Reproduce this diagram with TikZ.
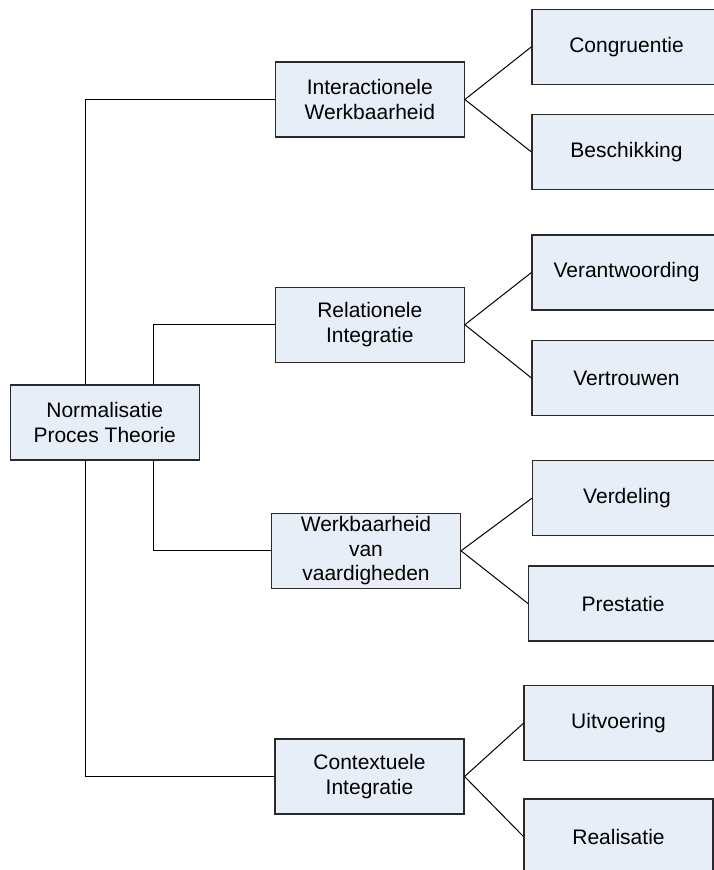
\documentclass[tikz,border=0pt]{standalone}
\usepackage{fontspec}
\setmainfont{Liberation Sans}
\usetikzlibrary{backgrounds}
\definecolor{boxfill}{HTML}{E8EEF7}
\definecolor{boxline}{HTML}{2A2A2A}
\tikzset{
  box/.style={draw=boxline, line width=1.1pt, fill=boxfill, rectangle,
    minimum width=189pt, minimum height=75pt, inner sep=0pt, align=center,
    font=\fontsize{21}{24.5}\selectfont},
  conn/.style={draw=black, line width=1pt}
}
\begin{document}
\begin{tikzpicture}[x=1pt,y=-1pt]
\useasboundingbox (0,0) rectangle (714,870);
\node[box] (root) at (104.75,422.5) {Normalisatie\\Proces Theorie};
\node[box] (iw) at (369.8,99.5) {Interactionele\\Werkbaarheid};
\node[box] (c) at (626.5,46.8) {Congruentie};
\node[box] (b) at (626.5,152) {Beschikking};
\node[box] (ri) at (369.8,324.7) {Relationele\\Integratie};
\node[box] (ver) at (626.5,272.5) {Verantwoording};
\node[box] (vert) at (626.5,378) {Vertrouwen};
\node[box] (wv) at (366,550.8) {Werkbaarheid\\van\\vaardigheden};
\node[box] (verd) at (627,498.2) {Verdeling};
\node[box] (pres) at (623,603.5) {Prestatie};
\node[box] (ci) at (369.5,776.5) {Contextuele\\Integratie};
\node[box] (uit) at (618.5,723.2) {Uitvoering};
\node[box] (real) at (618.5,836.5) {Realisatie};
\begin{scope}[on background layer]
\draw[conn] (iw.west) -- ++(-189.3,0) |- (ci.west);
\draw[conn] (ri.west) -- ++(-121.3,0) |- (wv.west);
\end{scope}
\draw[conn] (iw.east) -- (c.west);
\draw[conn] (iw.east) -- (b.west);
\draw[conn] (ri.east) -- (ver.west);
\draw[conn] (ri.east) -- (vert.west);
\draw[conn] (wv.east) -- (verd.west);
\draw[conn] (wv.east) -- (pres.west);
\draw[conn] (ci.east) -- (uit.west);
\draw[conn] (ci.east) -- (real.west);
\end{tikzpicture}
\end{document}
